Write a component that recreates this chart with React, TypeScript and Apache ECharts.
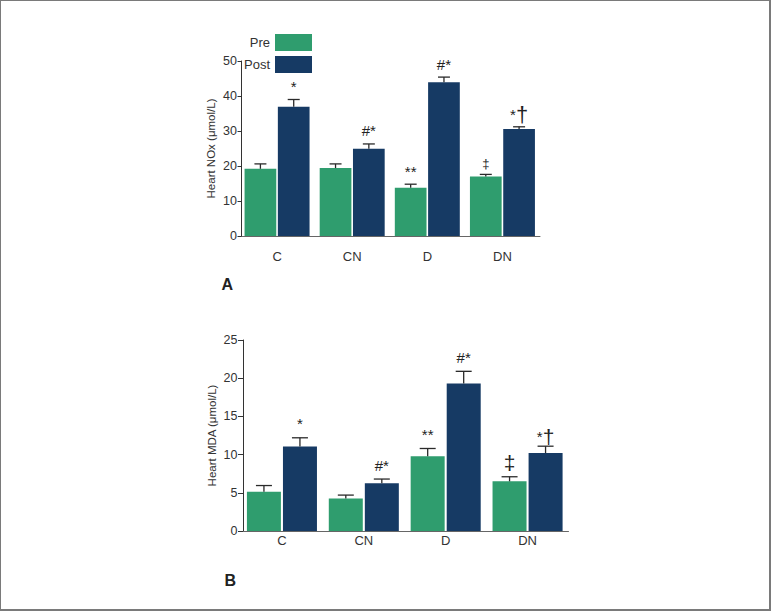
import React, { useEffect, useRef } from "react";
import * as echarts from "echarts";

const categories = ["C", "CN", "D", "DN"];

const noxPre = [19.2, 19.4, 13.8, 17.0];
const noxPreErr = [1.4, 1.2, 1.0, 0.6];
const noxPost = [36.9, 24.9, 43.9, 30.6];
const noxPostErr = [2.1, 1.4, 1.5, 0.6];
const noxPreMarks = ["", "", "**", "‡"];
const noxPostMarks = ["*", "#*", "#*", "*†"];

const mdaPre = [5.15, 4.25, 9.8, 6.5];
const mdaPreErr = [0.8, 0.45, 1.0, 0.6];
const mdaPost = [11.05, 6.25, 19.3, 10.2];
const mdaPostErr = [1.15, 0.55, 1.6, 0.9];
const mdaPreMarks = ["", "", "**", "‡"];
const mdaPostMarks = ["*", "#*", "#*", "*†"];

const noxTicks = { min: 0, max: 50, interval: 10 };
const mdaTicks = { min: 0, max: 25, interval: 5 };

const GREEN = "#2f9d6e";
const NAVY = "#163a64";
const FONT = "'Liberation Sans', Arial, Helvetica, sans-serif";
const TXT = "#333333";

function errSeries(
  name: string,
  axisIdx: number,
  vals: number[],
  errs: number[],
  marks: string[],
  off: number,
  cap: number,
  cfg: { gap: number; dagGap: number; dagSize: number; ddGap: number; ddSize: number }
) {
  return {
    type: "custom",
    name: name + " err",
    xAxisIndex: axisIdx,
    yAxisIndex: axisIdx,
    z: 5,
    silent: true,
    encode: { x: 0, y: 1 },
    data: vals.map((v, i) => [i, v, errs[i]]),
    renderItem: (params: any, api: any) => {
      const i = api.value(0);
      const v = api.value(1);
      const e = api.value(2);
      const p0 = api.coord([i, v]);
      const p1 = api.coord([i, v + e]);
      const x = p0[0] + off;
      const mark = marks[params.dataIndex];
      const children: any[] = [
        {
          type: "line",
          shape: { x1: x, y1: p0[1], x2: x, y2: p1[1] },
          style: { stroke: "#2a2a2a", lineWidth: 1.3 },
        },
        {
          type: "line",
          shape: { x1: x - cap / 2, y1: p1[1], x2: x + cap / 2, y2: p1[1] },
          style: { stroke: "#2a2a2a", lineWidth: 1.3 },
        },
      ];
      if (mark) {
        let style: any;
        let y = p1[1] - cfg.gap;
        if (mark.indexOf("†") >= 0) {
          y = p1[1] - cfg.dagGap;
          style = {
            text: "{s|*}{d|†}",
            rich: {
              s: { fontSize: 15, fontFamily: FONT, fill: "#222" },
              d: { fontSize: cfg.dagSize, fontFamily: FONT, fill: "#222" },
            },
          };
        } else if (mark === "‡") {
          y = p1[1] - cfg.ddGap;
          style = { text: mark, fontSize: cfg.ddSize, fontFamily: FONT, fill: "#222" };
        } else {
          style = { text: mark, fontSize: 15, fontFamily: FONT, fill: "#222" };
        }
        children.push({
          type: "text",
          x: x,
          y: y,
          style: { ...style, align: "center", verticalAlign: "middle" },
        });
      }
      return { type: "group", children };
    },
  };
}

export default function App() {
  const ref = useRef<HTMLDivElement>(null);

  useEffect(() => {
    if (!ref.current) return;
    const chart = echarts.init(ref.current, undefined, { renderer: "svg" });

    const yAxisBase = (ticks: any, name: string, gridIndex: number, tickLen: number) => ({
      type: "value",
      gridIndex,
      min: ticks.min,
      max: ticks.max,
      interval: ticks.interval,
      offset: -2,
      name,
      nameLocation: "middle",
      nameGap: 25,
      nameTextStyle: { fontSize: 11.5, fontFamily: FONT, color: TXT },
      axisLine: { show: true, lineStyle: { color: "#333", width: 1 } },
      axisTick: { show: true, length: tickLen, lineStyle: { color: "#333" } },
      axisLabel: { fontSize: 12.5, fontFamily: FONT, color: TXT, margin: tickLen + 0.5 },
      splitLine: { show: false },
    });

    const xAxisBase = (gridIndex: number, margin: number) => ({
      type: "category",
      gridIndex,
      data: categories,
      axisLine: { show: true, lineStyle: { color: "#666", width: 1 } },
      axisTick: { show: false },
      axisLabel: { fontSize: 13, fontFamily: FONT, color: TXT, margin },
    });

    const topCfg = { gap: 13, dagGap: 12, dagSize: 22, ddGap: 11, ddSize: 13 };
    const botCfg = { gap: 14, dagGap: 10, dagSize: 21, ddGap: 14, ddSize: 21 };

    const legendBase = {
      right: 459,
      padding: 0,
      align: "right",
      icon: "rect",
      itemWidth: 37,
      itemHeight: 17,
      itemGap: 5,
      textStyle: { fontSize: 13, fontFamily: FONT, color: TXT },
      selectedMode: false,
    };

    const option: any = {
      animation: false,
      backgroundColor: "#ffffff",
      textStyle: { fontFamily: FONT },
      grid: [
        { left: 239.5, right: 231, top: 61, bottom: 375 },
        { left: 241, right: 202.5, top: 340, bottom: 80 },
      ],
      legend: [
        { ...legendBase, data: ["Pre"], top: 34 },
        { ...legendBase, data: ["Post"], top: 56 },
      ],
      xAxis: [xAxisBase(0, 14), xAxisBase(1, 3)],
      yAxis: [
        yAxisBase(noxTicks, "Heart NOx (μmol/L)", 0, 4),
        yAxisBase(mdaTicks, "Heart MDA (μmol/L)", 1, 5),
      ],
      graphic: [
        {
          type: "text",
          left: 221.5,
          top: 276,
          style: { text: "A", fontSize: 16, fontWeight: "bold", fontFamily: FONT, fill: "#222" },
        },
        {
          type: "text",
          left: 224.5,
          top: 572.5,
          style: { text: "B", fontSize: 16, fontWeight: "bold", fontFamily: FONT, fill: "#222" },
        },
      ],
      series: [
        {
          name: "Pre",
          type: "bar",
          xAxisIndex: 0,
          yAxisIndex: 0,
          data: noxPre,
          barWidth: 31.7,
          barGap: "5%",
          itemStyle: { color: GREEN },
        },
        {
          name: "Post",
          type: "bar",
          xAxisIndex: 0,
          yAxisIndex: 0,
          data: noxPost,
          barWidth: 31.7,
          barGap: "5%",
          itemStyle: { color: NAVY },
        },
        {
          name: "Pre",
          type: "bar",
          xAxisIndex: 1,
          yAxisIndex: 1,
          data: mdaPre,
          barWidth: 34,
          barGap: "6%",
          itemStyle: { color: GREEN },
        },
        {
          name: "Post",
          type: "bar",
          xAxisIndex: 1,
          yAxisIndex: 1,
          data: mdaPost,
          barWidth: 34,
          barGap: "6%",
          itemStyle: { color: NAVY },
        },
        errSeries("Pre", 0, noxPre, noxPreErr, noxPreMarks, -16.65, 12, topCfg),
        errSeries("Post", 0, noxPost, noxPostErr, noxPostMarks, 16.65, 12, topCfg),
        errSeries("Pre", 1, mdaPre, mdaPreErr, mdaPreMarks, -18, 16, botCfg),
        errSeries("Post", 1, mdaPost, mdaPostErr, mdaPostMarks, 18, 16, botCfg),
      ],
    };

    chart.setOption(option);
    return () => chart.dispose();
  }, []);

  return (
    <div style={{ position: "absolute", left: 0, top: 0, width: 771, height: 611 }}>
      <div ref={ref} style={{ position: "absolute", left: 0, top: 0, width: 771, height: 611 }} />
      <div
        style={{
          position: "absolute",
          left: 0,
          top: 0,
          width: 771,
          height: 611,
          boxSizing: "border-box",
          borderTop: "1px solid #7a7a7a",
          borderLeft: "1px solid #7a7a7a",
          borderRight: "2px solid #7a7a7a",
          borderBottom: "2px solid #7a7a7a",
          pointerEvents: "none",
        }}
      />
    </div>
  );
}
